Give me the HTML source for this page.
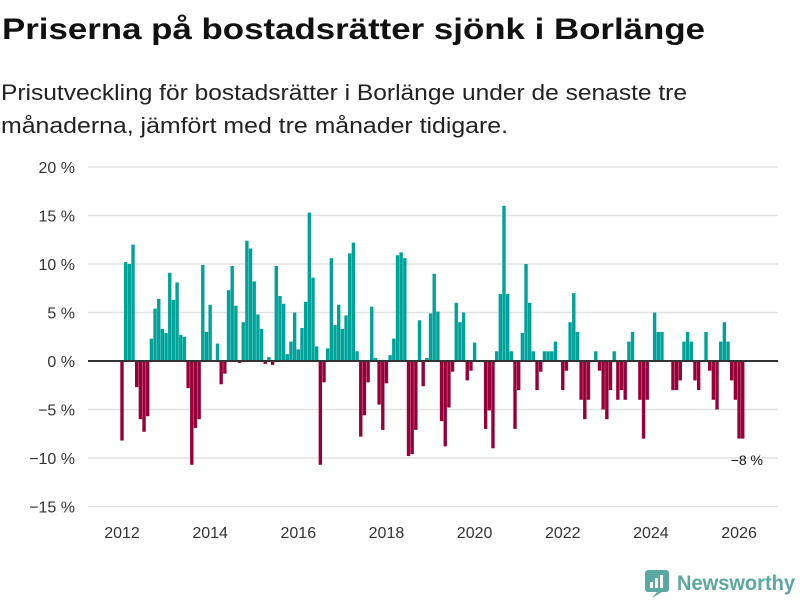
<!DOCTYPE html>
<html><head><meta charset="utf-8"><style>
html,body{margin:0;padding:0;background:#fff;}
svg{display:block;font-family:"Liberation Sans","DejaVu Sans",sans-serif;}
</style></head><body>
<svg id="chart" width="800" height="600" viewBox="0 0 800 600" xmlns="http://www.w3.org/2000/svg">
<text x="2" y="39" font-size="30" font-weight="bold" fill="#111" textLength="703" lengthAdjust="spacingAndGlyphs">Priserna på bostadsrätter sjönk i Borlänge</text>
<text x="1" y="100" font-size="22" fill="#222" textLength="686" lengthAdjust="spacingAndGlyphs">Prisutveckling för bostadsrätter i Borlänge under de senaste tre</text>
<text x="1" y="133" font-size="22" fill="#222" textLength="507" lengthAdjust="spacingAndGlyphs">månaderna, jämfört med tre månader tidigare.</text>
<g id="grid"></g>
<g id="bars"></g>
<g id="axes"></g>
<text x="763" y="465" font-size="14" fill="#111" text-anchor="end">−8 %</text>
<g>
<rect x="645" y="570" width="24" height="22" rx="3" fill="#5aa9a0"/>
<path d="M652 598 L657 592 L662 592 Z" fill="#5aa9a0"/>
<rect x="650" y="582" width="3" height="6" fill="#fff"/>
<rect x="655" y="578" width="3" height="10" fill="#fff"/>
<rect x="660" y="575" width="3" height="13" fill="#fff"/>
<text x="677" y="590" font-size="21" font-weight="bold" fill="#5aa9a0" textLength="118" lengthAdjust="spacingAndGlyphs">Newsworthy</text>
</g>
</svg>
<script>
const startYear = 2012;
const values = [
-8.2,10.2,10,12,-2.7,-6,-7.3,-5.7,2.3,5.4,6.4,3.3,2.9,9.1,6.3,8.1,2.7,2.5,-2.8,-10.7,-6.9,-6,9.9,3,5.8,0,1.8,-2.4,-1.3,7.3,9.8,5.7,-0.2,4.0,12.4,11.6,8.2,4.8,3.3,-0.3,0.4,-0.4,9.8,6.7,5.9,0.7,2.0,5.0,1.2,3.4,6.1,15.3,8.6,1.5,-10.7,-2.2,1.3,10.6,3.7,5.8,3.3,4.7,11.1,12.2,1.0,-7.8,-5.6,-2.2,5.6,0.3,-4.5,-7.1,-2.3,0.6,2.3,10.9,11.2,10.6,-9.8,-9.6,-7.1,4.2,-2.6,0.3,4.9,9.0,5.1,-6.2,-8.8,-4.8,-1.1,6.0,4.0,5.0,-2.0,-1.0,1.9,0,0,-7.0,-5.1,-9.0,1.0,6.9,16.0,6.9,1.0,-7.0,-3.0,2.9,10.0,6.0,1.0,-3.0,-1.1,1.0,1.0,1.0,2.0,0,-3.0,-1.0,4.0,7.0,3.0,-4.0,-6.0,-4.0,0,1.0,-1.0,-5.0,-6.0,-3.0,1.0,-4.0,-3.0,-4.0,2.0,3.0,0,-4.0,-8.0,-4.0,0,5.0,3.0,3.0,0,0,-3.0,-3.0,-2.0,2.0,3.0,2.0,-2.0,-3.0,0,3.0,-1.0,-4.0,-5.0,2.0,4.0,2.0,-2.0,-4.0,-8.0,-8.0
];
const yTicks = [20,15,10,5,0,-5,-10,-15];
const yTickLabels = ["20 %","15 %","10 %","5 %","0 %","−5 %","−10 %","−15 %"];
const xTickYears = [2012,2014,2016,2018,2020,2022,2024,2026];

const NS = "http://www.w3.org/2000/svg";
const y = v => 361 - v * 9.7;
const x = i => 122 + i * 3.673;
const grid = document.getElementById('grid');
const bars = document.getElementById('bars');
const axes = document.getElementById('axes');
function mk(tag, attrs){const e=document.createElementNS(NS,tag);for(const k in attrs)e.setAttribute(k,attrs[k]);return e;}

yTicks.forEach((t,k)=>{
  const l = mk('line',{x1:88,x2:778,y1:y(t),y2:y(t),stroke:'#e2e2e2','stroke-width':1.5});
  
  
  grid.appendChild(l);
  const tx = mk('text',{x:75,y:y(t)+6,'font-size':16,fill:'#333','text-anchor':'end'});
  tx.textContent = yTickLabels[k];
  
  
  axes.appendChild(tx);
});
xTickYears.forEach(yr=>{
  const xi = x((yr-startYear)*12);
  const tx = mk('text',{x:xi,y:538,'font-size':16,fill:'#333','text-anchor':'middle'});
  tx.textContent = yr;
  
  
  axes.appendChild(tx);
});
values.forEach((v,i)=>{
  if(v===0) return;
  const top = v>0 ? y(v) : y(0);
  const h = Math.abs(y(v)-y(0));
  const r = mk('rect',{x:x(i)-1.7,y:top,width:3.4,height:h,fill: v>0 ? '#00a39a' : '#990038'});
  
  
  bars.appendChild(r);
});
const zero = mk('line',{x1:88,x2:778,y1:y(0),y2:y(0),stroke:'#333','stroke-width':2});


axes.appendChild(zero);
</script>
</body></html>
